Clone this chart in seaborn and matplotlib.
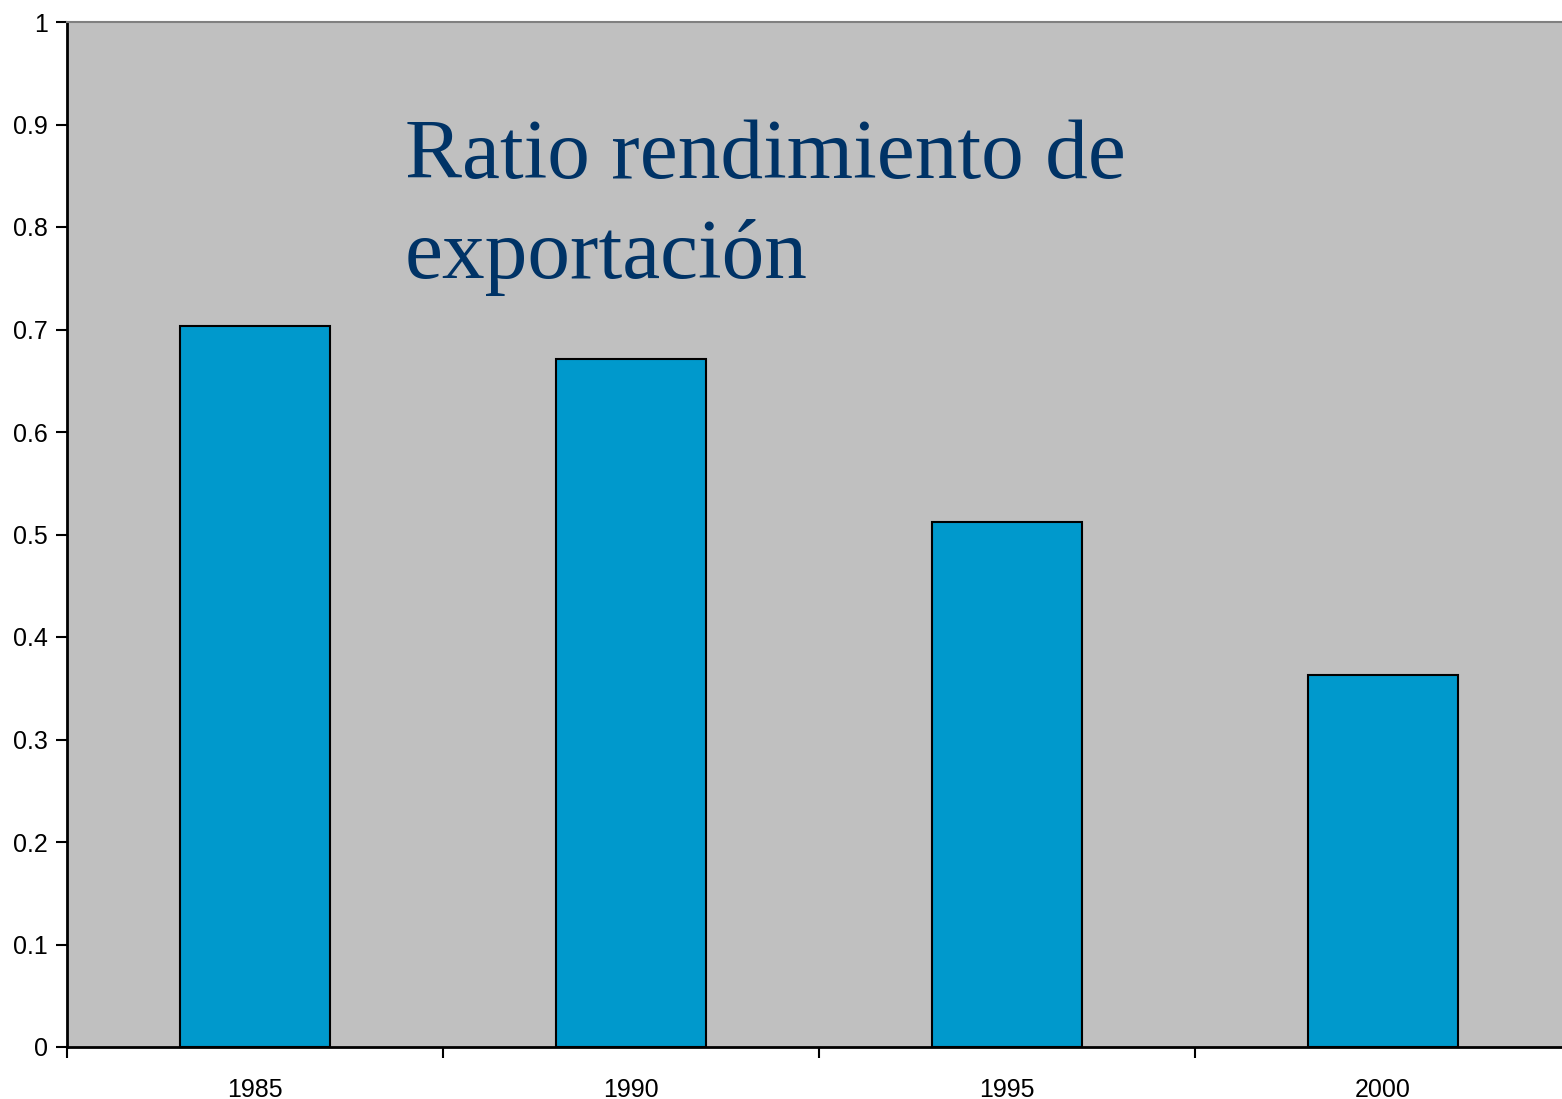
import matplotlib
matplotlib.use("Agg")
import matplotlib.pyplot as plt
import seaborn as sns
import pandas as pd
import numpy as np

years = ["1985", "1990", "1995", "2000"]
ratios = [0.703, 0.671, 0.512, 0.363]
y_ticks = [0, 0.1, 0.2, 0.3, 0.4, 0.5, 0.6, 0.7, 0.8, 0.9, 1.0]
y_tick_labels = ["0", "0.1", "0.2", "0.3", "0.4", "0.5", "0.6", "0.7", "0.8", "0.9", "1"]
title_text = "Ratio rendimiento de\nexportación"

df = pd.DataFrame({"year": years, "ratio": ratios})

sns.set_theme(style="white")
plt.rcParams["font.family"] = ["Liberation Sans", "DejaVu Sans"]

W, H = 1562, 1099
fig = plt.figure(figsize=(W / 100, H / 100), dpi=100)
left, right, top, bottom = 67, 1571, 22, 1047
ax = fig.add_axes([left / W, 1 - bottom / H, (right - left) / W, (bottom - top) / H])
ax.set_facecolor("#C0C0C0")

sns.barplot(data=df, x="year", y="ratio", color="#0099CC", saturation=1,
            width=0.4, edgecolor="black", linewidth=1.5, ax=ax)

ax.set_xlim(-0.5, len(years) - 0.5)
ax.set_ylim(0, 1)
ax.set_xlabel("")
ax.set_ylabel("")

ax.set_yticks(y_ticks)
ax.set_yticklabels(y_tick_labels, fontsize=18)
ax.tick_params(axis="y", direction="out", length=8, width=1.5, color="black", pad=6,
               left=True, labelcolor="black")

# major ticks at category boundaries, labels at category centres
ax.set_xticks(np.arange(len(years)) - 0.5)
ax.set_xticklabels([""] * len(years))
ax.set_xticks(np.arange(len(years)), minor=True)
ax.set_xticklabels(years, minor=True, fontsize=18)
ax.tick_params(axis="x", which="major", direction="out", length=8, width=1.5, color="black", bottom=True)
ax.tick_params(axis="x", which="minor", length=0, pad=22, labelcolor="black")

for s in ["left", "bottom"]:
    ax.spines[s].set_color("black")
    ax.spines[s].set_linewidth(2)
ax.spines["top"].set_color("#808080")
ax.spines["top"].set_linewidth(1.5)
ax.spines["right"].set_visible(False)

ax.text(405 / W, 1 - 278 / H, title_text, transform=fig.transFigure,
        fontsize=61.5, color="#003366", family=["Liberation Serif", "DejaVu Serif"],
        ha="left", va="baseline", linespacing=1.39)

fig.savefig("out.png", dpi=100)
